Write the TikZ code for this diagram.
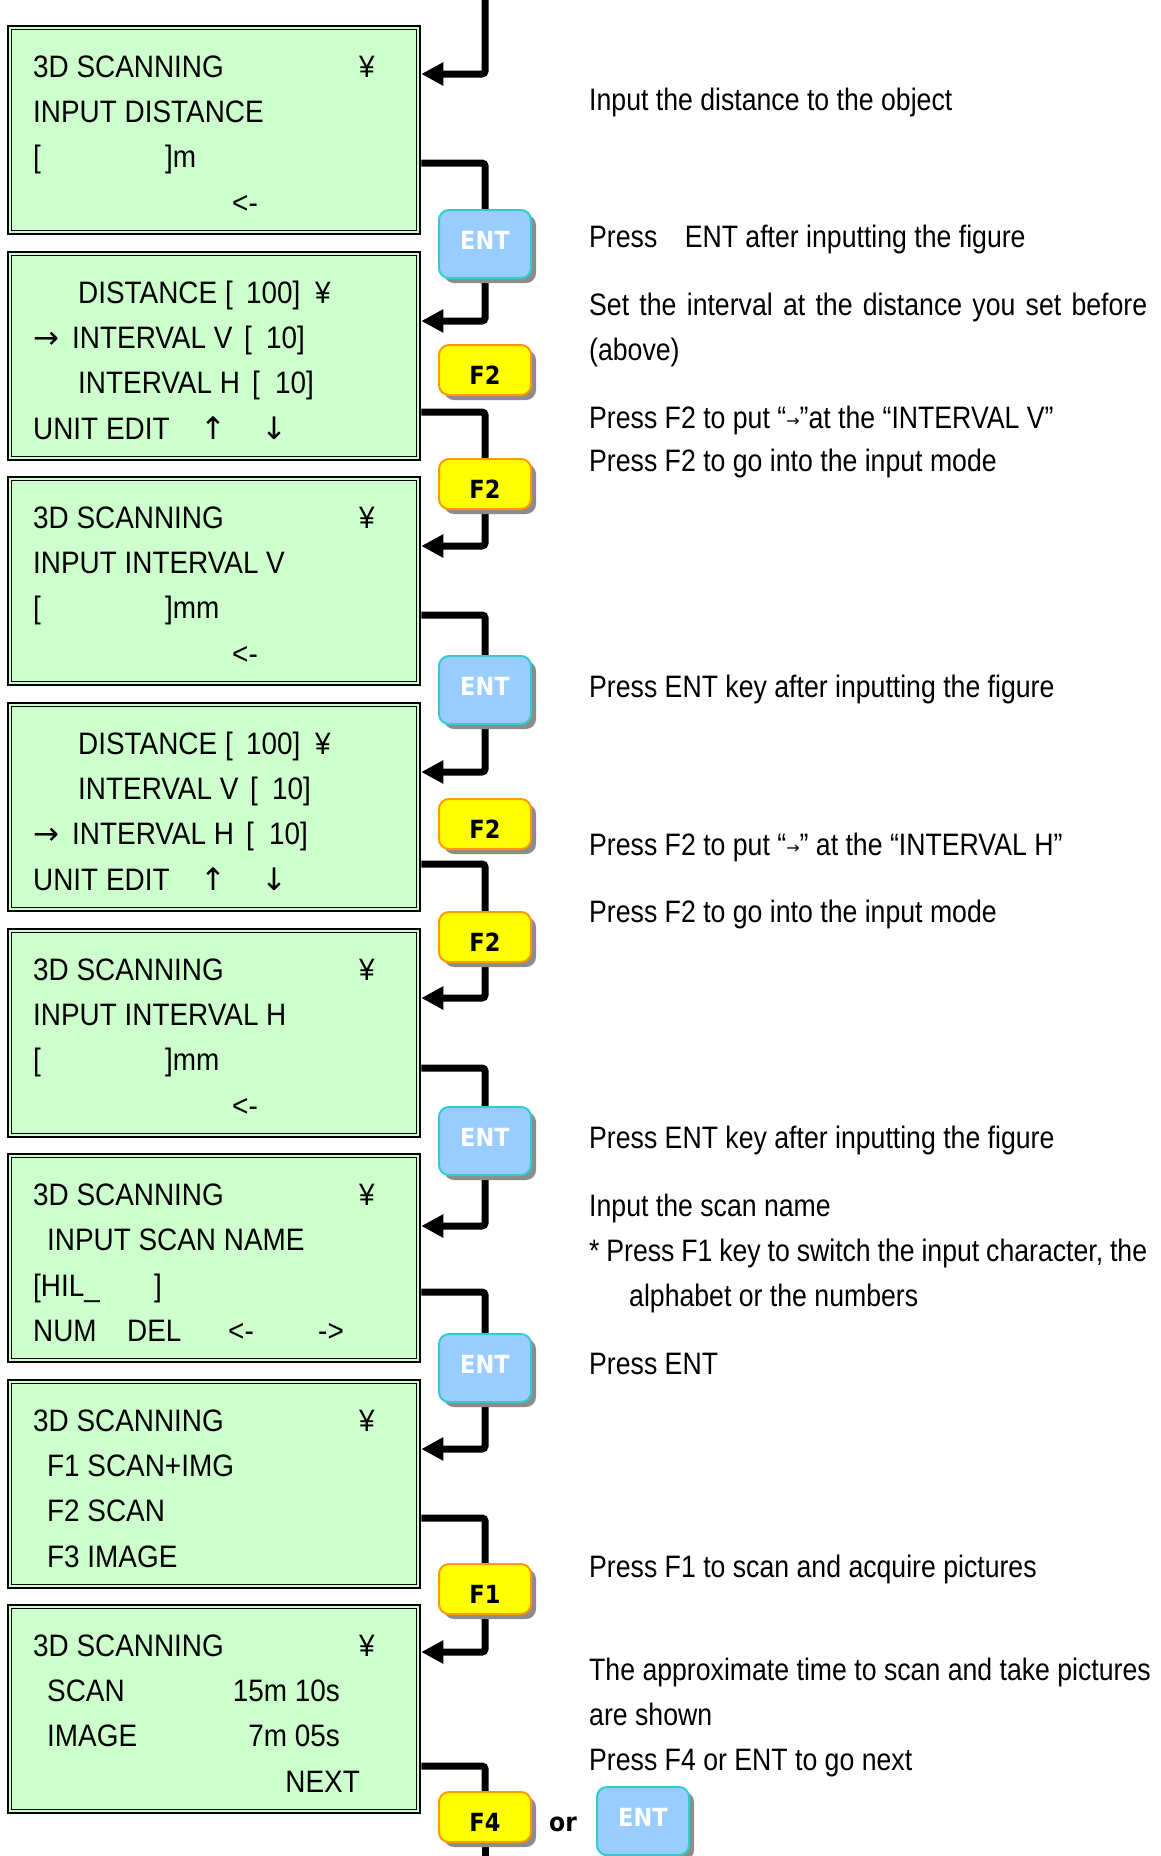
\documentclass[tikz,border=0pt]{standalone}
\usepackage{fontspec}
\setmainfont{Liberation Sans}[FakeStretch=0.9]
\newfontfamily\notefont{Liberation Sans}[FakeStretch=0.86]
\newfontfamily\arrowfont{DejaVu Sans}
\newfontfamily\keyfont{DejaVu Sans}[FakeStretch=0.9]
\usetikzlibrary{arrows.meta,shadows}
\pgfdeclarelayer{bottom}
\pgfdeclarelayer{background}
\pgfsetlayers{bottom,background,main}
\definecolor{lcd}{HTML}{CCFFCC}
\definecolor{entfill}{HTML}{99CCFF}
\definecolor{entborder}{HTML}{33CCCC}
\definecolor{fkfill}{HTML}{FFFF00}
\definecolor{fkborder}{HTML}{FF9900}
\definecolor{shadowgray}{HTML}{8C8C8C}
\newcommand{\ar}{{\arrowfont →}}
\newcommand{\sar}{\raisebox{2pt}{\arrowfont\fontsize{16}{18}\selectfont →}}
\tikzset{
  screen/.style={rectangle, draw=black, line width=2.6pt, fill=lcd,
    minimum width=412pt, minimum height=208pt, inner sep=0pt},
  innerline/.style={draw=black, line width=1.4pt},
  lcdtxt/.style={anchor=base west, inner sep=0pt, font=\fontsize{31}{36}\selectfont},
  lcdc/.style={lcdtxt, anchor=base},
  lcde/.style={lcdtxt, anchor=base east},
  note/.style={anchor=base west, inner sep=0pt, font=\notefont\fontsize{31}{36}\selectfont},
  keybase/.style={rectangle, rounded corners=10pt, minimum width=92pt, line width=2pt,
    inner ysep=0pt, font=\keyfont\bfseries\fontsize{25}{28}\selectfont,
    drop shadow={shadow xshift=5pt, shadow yshift=-5pt, fill=shadowgray, opacity=1}},
  entkey/.style={keybase, fill=entfill, draw=entborder, text=white, minimum height=68pt,
    text height=18pt, text depth=8pt},
  fkey/.style={keybase, fill=fkfill, draw=fkborder, text=black, minimum height=50pt,
    text height=28pt, text depth=0pt},
  conn/.style={line width=7pt, rounded corners=3pt},
  arr/.style={-{Triangle[length=22pt,width=22pt]}},
}
\begin{document}
\begin{tikzpicture}[x=1pt,y=-1pt]
\begin{pgfonlayer}{bottom}
\fill[white] (0,0) rectangle (1161,1856);
\end{pgfonlayer}
\useasboundingbox (0,0) rectangle (1161,1856);

% screens
\node[screen] (b1) at (214,130) {};
\node[screen] (b2) at (214,356) {};
\node[screen] (b3) at (214,581) {};
\node[screen] (b4) at (214,807) {};
\node[screen] (b5) at (214,1033) {};
\node[screen] (b6) at (214,1258) {};
\node[screen] (b7) at (214,1484) {};
\node[screen] (b8) at (214,1709) {};
\foreach \b in {b1,b2,b3,b4,b5,b6,b7,b8}{
  \draw[innerline] ([xshift=5pt,yshift=-5pt]\b.north west) rectangle ([xshift=-5pt,yshift=5pt]\b.south east);
}

% screen 1
\node[lcdtxt] (t1a) at (33,77) {3D SCANNING};
\node[lcdc]   (t1y) at (367,77) {¥};
\node[lcdtxt] (t1b) at (33,122) {INPUT DISTANCE};
\node[lcdtxt] (t1c) at (33,167) {[};
\node[lcdtxt] (t1d) at (165,167) {]m};
\node[lcdc]   (t1e) at (245,213) {<-};
% screen 2
\node[lcdtxt] (t2a) at (78,303) {DISTANCE};
\node[lcdtxt] (t2a1) at (225,303) {[};
\node[lcdtxt] (t2a2) at (246,303) {100]};
\node[lcdc]   (t2a3) at (323,303) {¥};
\node[lcdtxt] (t2r) at (33,348) {\ar};
\node[lcdtxt] (t2b) at (72,348) {INTERVAL V};
\node[lcdtxt] (t2b1) at (244,348) {[};
\node[lcdtxt] (t2b2) at (266,348) {10]};
\node[lcdtxt] (t2c) at (78,393) {INTERVAL H};
\node[lcdtxt] (t2c1) at (252,393) {[};
\node[lcdtxt] (t2c2) at (275,393) {10]};
\node[lcdtxt] (t2d) at (33,439) {UNIT EDIT};
\node[lcdc]   (t2u) at (213,439) {\arrowfont ↑};
\node[lcdc]   (t2v) at (274,439) {\arrowfont ↓};
% screen 3
\node[lcdtxt] (t3a) at (33,528) {3D SCANNING};
\node[lcdc]   (t3y) at (367,528) {¥};
\node[lcdtxt] (t3b) at (33,573) {INPUT INTERVAL V};
\node[lcdtxt] (t3c) at (33,618) {[};
\node[lcdtxt] (t3d) at (165,618) {]mm};
\node[lcdc]   (t3e) at (245,664) {<-};
% screen 4
\node[lcdtxt] (t4a) at (78,754) {DISTANCE};
\node[lcdtxt] (t4a1) at (225,754) {[};
\node[lcdtxt] (t4a2) at (246,754) {100]};
\node[lcdc]   (t4a3) at (323,754) {¥};
\node[lcdtxt] (t4b) at (78,799) {INTERVAL V};
\node[lcdtxt] (t4b1) at (250,799) {[};
\node[lcdtxt] (t4b2) at (272,799) {10]};
\node[lcdtxt] (t4r) at (33,844) {\ar};
\node[lcdtxt] (t4c) at (72,844) {INTERVAL H};
\node[lcdtxt] (t4c1) at (246,844) {[};
\node[lcdtxt] (t4c2) at (269,844) {10]};
\node[lcdtxt] (t4d) at (33,890) {UNIT EDIT};
\node[lcdc]   (t4u) at (213,890) {\arrowfont ↑};
\node[lcdc]   (t4v) at (274,890) {\arrowfont ↓};
% screen 5
\node[lcdtxt] (t5a) at (33,980) {3D SCANNING};
\node[lcdc]   (t5y) at (367,980) {¥};
\node[lcdtxt] (t5b) at (33,1025) {INPUT INTERVAL H};
\node[lcdtxt] (t5c) at (33,1070) {[};
\node[lcdtxt] (t5d) at (165,1070) {]mm};
\node[lcdc]   (t5e) at (245,1116) {<-};
% screen 6
\node[lcdtxt] (t6a) at (33,1205) {3D SCANNING};
\node[lcdc]   (t6y) at (367,1205) {¥};
\node[lcdtxt] (t6b) at (47,1250) {INPUT SCAN NAME};
\node[lcdtxt] (t6c) at (33,1296) {[HIL\_};
\node[lcdtxt] (t6d) at (154,1296) {]};
\node[lcdtxt] (t6e) at (33,1341) {NUM};
\node[lcdtxt] (t6f) at (127,1341) {DEL};
\node[lcdc]   (t6g) at (241,1341) {<-};
\node[lcdc]   (t6h) at (331,1341) {->};
% screen 7
\node[lcdtxt] (t7a) at (33,1431) {3D SCANNING};
\node[lcdc]   (t7y) at (367,1431) {¥};
\node[lcdtxt] (t7b) at (47,1476) {F1 SCAN+IMG};
\node[lcdtxt] (t7c) at (47,1521) {F2 SCAN};
\node[lcdtxt] (t7d) at (47,1567) {F3 IMAGE};
% screen 8
\node[lcdtxt] (t8a) at (33,1656) {3D SCANNING};
\node[lcdc]   (t8y) at (367,1656) {¥};
\node[lcdtxt] (t8b) at (47,1701) {SCAN};
\node[lcde]   (t8c) at (340,1701) {15m 10s};
\node[lcde]   (t8e) at (340,1746) {7m 05s};
\node[lcdtxt] (t8d) at (47,1746) {IMAGE};
\node[lcde]   (t8f) at (360,1792) {NEXT};

% keys
\node[entkey] (k1) at (485,244) {ENT};
\node[fkey]   (kf1) at (485,370) {F2};
\node[fkey]   (k2) at (485,484) {F2};
\node[entkey] (k3) at (485,690) {ENT};
\node[fkey]   (kf2) at (485,824) {F2};
\node[fkey]   (k4) at (485,937) {F2};
\node[entkey] (k5) at (485,1141) {ENT};
\node[entkey] (k6) at (485,1368) {ENT};
\node[fkey]   (k7) at (485,1589) {F1};
\node[fkey]   (k8) at (485,1817) {F4};
\node[inner sep=0pt, font=\keyfont\bfseries\fontsize{26}{28}\selectfont] (kor) at (563,1824) {or};
\node[entkey] (k9) at (643,1821) {ENT};

% connectors
\coordinate (top) at (485,0);
\coordinate (bot) at (485,1856);
\begin{pgfonlayer}{background}
\draw[conn,arr] (top) |- (b1.east |- 0,74);
\draw[conn] (b1.east |- 0,163) -| (k1.north);
\draw[conn,arr] (k1.south) |- (b2.east |- 0,321);
\draw[conn] (b2.east |- 0,412) -| (k2.north);
\draw[conn,arr] (k2.south) |- (b3.east |- 0,546);
\draw[conn] (b3.east |- 0,615) -| (k3.north);
\draw[conn,arr] (k3.south) |- (b4.east |- 0,772);
\draw[conn] (b4.east |- 0,864) -| (k4.north);
\draw[conn,arr] (k4.south) |- (b5.east |- 0,998);
\draw[conn] (b5.east |- 0,1068) -| (k5.north);
\draw[conn,arr] (k5.south) |- (b6.east |- 0,1226);
\draw[conn] (b6.east |- 0,1292) -| (k6.north);
\draw[conn,arr] (k6.south) |- (b7.east |- 0,1449);
\draw[conn] (b7.east |- 0,1518) -| (k7.north);
\draw[conn,arr] (k7.south) |- (b8.east |- 0,1652);
\draw[conn] (b8.east |- 0,1766) -| (k8.north);
\draw[conn] (k8.south) -- (bot);
\end{pgfonlayer}

% notes
\node[note] (n1) at (589,110) {Input the distance to the object};
\node[note] (n2) at (589,247) {Press\hspace{20pt} ENT after inputting the figure};
\node[note] (n3) at (589,315) {\hbox to 558pt{Set\hfill the\hfill interval\hfill at\hfill the\hfill distance\hfill you\hfill set\hfill before}};
\node[note] (n4) at (589,360) {(above)};
\node[note] (n5) at (589,428) {Press F2 to put “\sar”at the “INTERVAL V”};
\node[note] (n6) at (589,471) {Press F2 to go into the input mode};
\node[note] (n7) at (589,697) {Press ENT key after inputting the figure};
\node[note] (n8) at (589,855) {Press F2 to put “\sar” at the “INTERVAL H”};
\node[note] (n9) at (589,922) {Press F2 to go into the input mode};
\node[note] (n10) at (589,1148) {Press ENT key after inputting the figure};
\node[note] (n11) at (589,1216) {Input the scan name};
\node[note] (n12) at (589,1261) {\hbox to 558pt{*\hfill Press\hfill F1\hfill key\hfill to\hfill switch\hfill the\hfill input\hfill character,\hfill the}};
\node[note] (n13) at (629,1306) {alphabet or the numbers};
\node[note] (n14) at (589,1374) {Press ENT};
\node[note] (n15) at (589,1577) {Press F1 to scan and acquire pictures};
\node[note] (n16) at (589,1680) {The approximate time to scan and take pictures};
\node[note] (n17) at (589,1725) {are shown};
\node[note] (n18) at (589,1770) {Press F4 or ENT to go next};
\end{tikzpicture}
\end{document}
